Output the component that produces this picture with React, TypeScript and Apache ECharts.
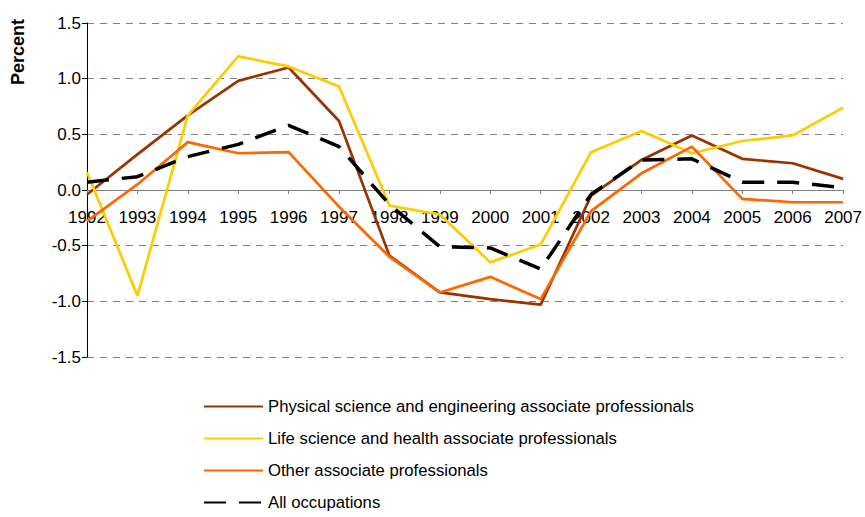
import React, { useEffect, useRef } from "react";
import * as echarts from "echarts";

const years = ["1992","1993","1994","1995","1996","1997","1998","1999","2000","2001","2002","2003","2004","2005","2006","2007"];
const physical = [-0.04, 0.32, 0.67, 0.98, 1.1, 0.62, -0.59, -0.92, -0.98, -1.03, -0.05, 0.27, 0.49, 0.28, 0.24, 0.1];
const life = [0.16, -0.95, 0.67, 1.2, 1.11, 0.93, -0.14, -0.22, -0.65, -0.49, 0.34, 0.53, 0.33, 0.44, 0.49, 0.74];
const other = [-0.28, 0.05, 0.43, 0.33, 0.34, -0.15, -0.6, -0.92, -0.78, -0.98, -0.19, 0.15, 0.39, -0.08, -0.11, -0.11];
const allOcc = [0.07, 0.12, 0.3, 0.41, 0.58, 0.39, -0.13, -0.51, -0.52, -0.71, -0.04, 0.27, 0.28, 0.07, 0.07, 0.02];

const names = [
  "Physical science and engineering associate professionals",
  "Life science and health associate professionals",
  "Other associate professionals",
  "All occupations",
];
const FONT = "'Liberation Sans', Arial, sans-serif";

export default function App() {
  const ref = useRef<HTMLDivElement>(null);
  useEffect(() => {
    if (!ref.current) return;
    const chart = echarts.init(ref.current, null, { renderer: "svg" });
    const mk = (name: string, data: number[], color: string, width: number, dash?: number[]) => ({
      name,
      type: "line",
      data,
      symbol: "none",
      showSymbol: false,
      lineStyle: { color, width, type: dash ? dash : "solid" },
      itemStyle: { color },
    });
    chart.setOption({
      animation: false,
      backgroundColor: "#fff",
      textStyle: { fontFamily: FONT },
      grid: { left: 87, right: 18, top: 23, bottom: 160, containLabel: false },
      xAxis: {
        type: "category",
        data: years,
        boundaryGap: false,
        position: "bottom",
        offset: -167,
        axisLine: { onZero: false, lineStyle: { color: "#808080", width: 1 } },
        axisTick: { show: true, length: 4, lineStyle: { color: "#808080" } },
        axisLabel: { color: "#000", fontSize: 17, fontFamily: FONT, margin: 19, interval: 0 },
        splitLine: { show: false },
      },
      yAxis: {
        type: "value",
        min: -1.5,
        max: 1.5,
        interval: 0.5,
        axisLine: { show: true, onZero: false, lineStyle: { color: "#000", width: 1 } },
        axisTick: { show: true, length: 5, lineStyle: { color: "#000" } },
        axisLabel: { color: "#000", fontSize: 17, fontFamily: FONT, margin: 6, formatter: (v: number) => v.toFixed(1) },
        splitLine: { show: true, lineStyle: { color: "#808080", width: 1, type: [7, 6] } },
      },
      legend: {
        orient: "vertical",
        left: 203,
        top: 398,
        padding: 0,
        itemWidth: 59,
        itemHeight: 14,
        itemGap: 15,
        itemStyle: { opacity: 0 },
        textStyle: { color: "#000", fontSize: 16.7, fontFamily: FONT, lineHeight: 16 },
        data: names,
      },
      graphic: [
        {
          type: "text",
          x: 18,
          y: 52,
          rotation: Math.PI / 2,
          style: {
            text: "Percent",
            fontSize: 18,
            fontWeight: "bold",
            fontFamily: FONT,
            fill: "#000",
            textAlign: "center",
            textVerticalAlign: "middle",
          },
        },
      ],
      series: [
        mk(names[0], physical, "#993300", 2.7),
        mk(names[1], life, "#FFCC00", 2.7),
        mk(names[2], other, "#FF6600", 2.7),
        mk(names[3], allOcc, "#000000", 3.5, [22, 13]),
      ],
    });
    return () => chart.dispose();
  }, []);
  return <div ref={ref} style={{ width: 865, height: 517, position: "absolute", left: 0, top: 0 }} />;
}
